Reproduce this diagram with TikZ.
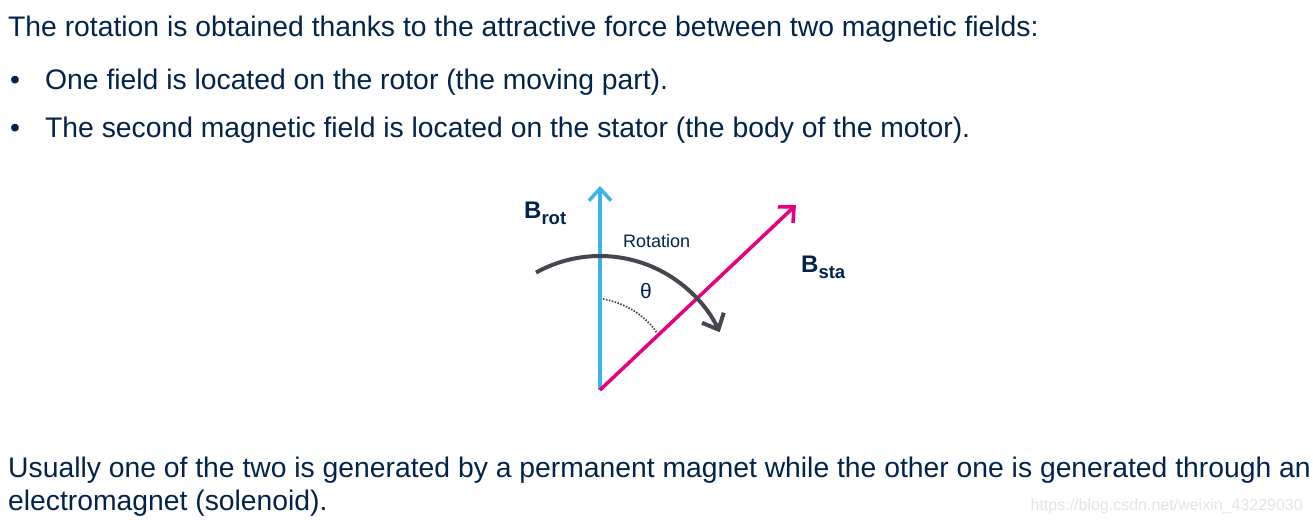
\documentclass[tikz,border=0pt]{standalone}
\usepackage{fontspec}
\setmainfont{Liberation Sans}
\usetikzlibrary{arrows.meta}
\definecolor{navy}{HTML}{03234B}
\definecolor{stblue}{HTML}{3CB4E6}
\definecolor{stpink}{HTML}{E6007E}
\definecolor{darkg}{HTML}{464650}
\definecolor{wm}{HTML}{E4E4E4}
\tikzset{
  body/.style={anchor=base west, inner sep=0pt, text=navy, font=\fontsize{28.3}{32}\selectfont},
  lab/.style={anchor=base west, inner sep=0pt, text=navy},
  vec/.style={line width=3.5pt, -{Straight Barb[length=12pt,width=22pt,line width=3.5pt]}},
}
\newcommand{\fieldlabel}[2]{\textbf{\fontsize{24}{26}\selectfont #1\raisebox{-6pt}{\fontsize{18.5}{20}\selectfont #2}}}
\begin{document}
\begin{tikzpicture}[x=1pt,y=-1pt]
\useasboundingbox (0,0) rectangle (1313,524);
\fill[white] (0,0) rectangle (1313,524);
% text
\node[body] (t1) at (8,37) {The rotation is obtained thanks to the attractive force between two magnetic fields:};
\node[body] (b1) at (10,90) {•};
\node[body] (t2) at (45,90) {One field is located on the rotor (the moving part).};
\node[body] (b2) at (10,137) {•};
\node[body] (t3) at (45,137) {The second magnetic field is located on the stator (the body of the motor).};
\node[body] (t4) at (8,477) {Usually one of the two is generated by a permanent magnet while the other one is generated through an};
\node[body] (t5) at (8,510) {electromagnet (solenoid).};
\node[anchor=base east, inner sep=0pt, text=wm, font=\fontsize{16}{18}\selectfont] (w) at (1303,510) {https://blog.csdn.net/weixin\_43229030};
% diagram
\coordinate (O) at (600,390);
\coordinate (Bt) at (600,186);
\coordinate (Pt) at (796,205);
\draw[vec, stblue] (O) -- (Bt);
\draw[vec, stpink] (O) -- (Pt);
\draw[darkg, line width=4pt, -{Straight Barb[length=13pt,width=24pt,line width=4pt]}]
  ([shift={(-119:132)}]600,388) arc[start angle=-119, end angle=-25, radius=132];
\draw[darkg, line width=1.8pt, dash pattern=on 1.5pt off 1.5pt]
  (603,299) .. controls (625,303) and (645,315) .. (657,333);
\node[lab] (br) at (524,218) {\fieldlabel{B}{rot}};
\node[lab] (bs) at (801,272) {\fieldlabel{B}{sta}};
\node[lab, font=\fontsize{18}{20}\selectfont] (rot) at (623,247) {Rotation};
\node[lab, font=\fontsize{21}{24}\selectfont] (th) at (640,298) {θ};
\end{tikzpicture}
\end{document}
